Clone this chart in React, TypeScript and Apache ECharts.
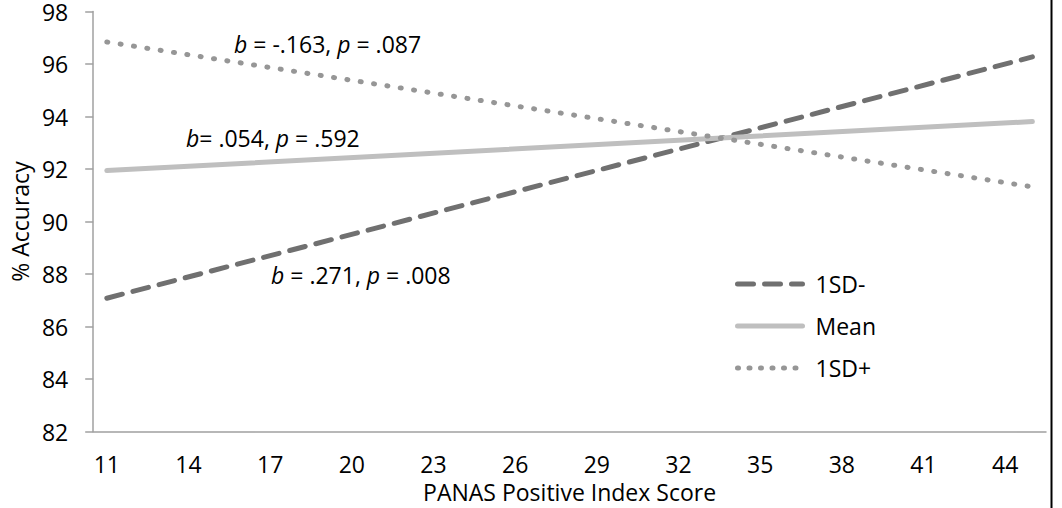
import React, { useEffect, useRef } from "react";
import * as echarts from "echarts";

const categories = [
  "11", "12", "13", "14", "15", "16", "17", "18", "19", "20",
  "21", "22", "23", "24", "25", "26", "27", "28", "29", "30",
  "31", "32", "33", "34", "35", "36", "37", "38", "39", "40",
  "41", "42", "43", "44", "45",
];
const sdMinus = [["11", 87.08], ["45", 96.27]];
const meanLine = [["11", 91.94], ["45", 93.81]];
const sdPlus = [["11", 96.84], ["45", 91.32]];
const seriesNames = ["1SD-", "Mean", "1SD+"];
const annotations = [
  "{i|b} = -.163, {i|p} = .087",
  "{i|b}= .054, {i|p} = .592",
  "{i|b} = .271, {i|p} = .008",
];

const FONT = "Open Sans";
const FS = 23;

export default function App() {
  const ref = useRef<HTMLDivElement>(null);
  useEffect(() => {
    const chart = echarts.init(ref.current!, null, { renderer: "svg" });
    const textStyle = { fontFamily: FONT, fontSize: FS, color: "#000" };
    const rich = { i: { fontStyle: "italic", fontFamily: FONT, fontSize: FS, color: "#000" } };
    const dashStyle = { color: "#707070", width: 5, type: [16, 11], cap: "round" };
    const meanStyle = { color: "#bfbfbf", width: 5, cap: "round" };
    const dotStyle = { color: "#969696", width: 5, type: [1, 12.5], cap: "round" };
    chart.setOption({
      animation: false,
      backgroundColor: "#fff",
      textStyle: { fontFamily: FONT },
      grid: { left: 80, right: 16, top: 5, bottom: 75, containLabel: false },
      xAxis: {
        type: "category",
        data: categories,
        boundaryGap: true,
        name: "PANAS Positive Index Score",
        nameLocation: "middle",
        nameGap: 48,
        nameTextStyle: { ...textStyle, lineHeight: 20 },
        axisLine: { lineStyle: { color: "#a0a0a0", width: 1.5 } },
        axisTick: { interval: 1, length: 7, lineStyle: { color: "#a0a0a0", width: 1.5 } },
        axisLabel: { interval: 2, margin: 22, ...textStyle, lineHeight: 20 },
        splitLine: { show: false },
      },
      yAxis: {
        type: "value",
        min: 82,
        max: 98,
        interval: 2,
        name: "% Accuracy",
        nameLocation: "middle",
        nameGap: 55,
        nameTextStyle: textStyle,
        axisLine: { show: true, lineStyle: { color: "#a0a0a0", width: 1.5 } },
        axisTick: { show: true, length: 8, lineStyle: { color: "#a0a0a0", width: 1.5 } },
        axisLabel: { margin: 25, ...textStyle },
        splitLine: { show: false },
      },
      legend: {
        orient: "vertical",
        left: 730,
        top: 265,
        itemWidth: 65,
        itemHeight: 14,
        itemGap: 14,
        itemStyle: { opacity: 0 },
        textStyle: { ...textStyle, lineHeight: 28, padding: [0, 0, 0, 8] },
        data: [
          { name: seriesNames[0], lineStyle: dashStyle, itemStyle: { opacity: 0 } },
          { name: seriesNames[1], lineStyle: meanStyle, itemStyle: { opacity: 0 } },
          { name: seriesNames[2], lineStyle: { ...dotStyle, type: [1, 10.5] }, itemStyle: { opacity: 0 } },
        ],
      },
      series: [
        {
          name: seriesNames[0],
          type: "line",
          data: sdMinus,
          showSymbol: false,
          symbol: "none",
          lineStyle: dashStyle,
          itemStyle: { color: "#707070" },
        },
        {
          name: seriesNames[1],
          type: "line",
          data: meanLine,
          showSymbol: false,
          symbol: "none",
          lineStyle: meanStyle,
          itemStyle: { color: "#bfbfbf" },
        },
        {
          name: seriesNames[2],
          type: "line",
          data: sdPlus,
          showSymbol: false,
          symbol: "none",
          lineStyle: dotStyle,
          itemStyle: { color: "#969696" },
        },
      ],
      graphic: [
        { type: "text", left: 234, top: 32, style: { text: annotations[0], rich, ...textStyle, fill: "#000" } },
        { type: "text", left: 186, top: 126, style: { text: annotations[1], rich, ...textStyle, fill: "#000" } },
        { type: "text", left: 271, top: 263, style: { text: annotations[2], rich, ...textStyle, fill: "#000" } },
        { type: "line", shape: { x1: 1051.5, y1: 0, x2: 1051.5, y2: 508 }, style: { stroke: "#000", lineWidth: 2 } },
      ],
    });
    return () => chart.dispose();
  }, []);
  return (
    <div
      ref={ref}
      style={{ position: "fixed", left: 0, top: 0, width: 1062, height: 508 }}
    />
  );
}
